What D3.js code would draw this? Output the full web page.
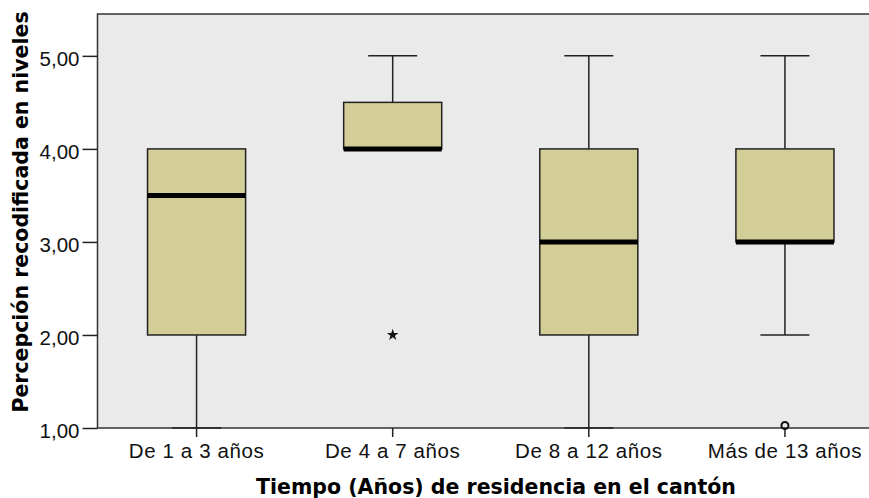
<!DOCTYPE html>
<html><head><meta charset="utf-8">
<script src="https://cdn.jsdelivr.net/npm/d3@7"></script>
<style>body{margin:0;background:#fff}svg{display:block}</style>
</head><body>
<svg id="c" width="869" height="498"></svg>
<script>
const categories = ["De 1 a 3 años","De 4 a 7 años","De 8 a 12 años","Más de 13 años"];
const whiskerLow  = [1, 4, 1, 2];
const q1          = [2, 4, 2, 3];
const medians     = [3.5, 4, 3, 3];
const q3          = [4, 4.5, 4, 4];
const whiskerHigh = [4, 5, 5, 5];
const outliers = [
  {cat: "De 4 a 7 años", value: 2, type: "star"},
  {cat: "Más de 13 años", value: 1, type: "circle"}
];
const yTicks = [1, 2, 3, 4, 5];
const xTitle = "Tiempo (Años) de residencia en el cantón";
const yTitle = "Percepción recodificada en niveles";

(function () {
const svg = d3.select("#c");
const pLeft = 97.5, pTop = 14, pBottom = 428, rightRange = 883;

const x = d3.scaleBand().domain(categories).range([98.5, rightRange]).paddingInner(0.5).paddingOuter(0.25);
const y = d3.scaleLinear().domain([1, 5.45]).range([pBottom, pTop]);

svg.append("rect").attr("x", pLeft).attr("y", pTop).attr("width", 900 - pLeft).attr("height", pBottom - pTop)
  .attr("fill", "#eaeaea").attr("stroke", "#333").attr("stroke-width", 1.5);

const fmt = d => d.toFixed(2).replace(".", ",");

const yAxis = svg.append("g").attr("transform", `translate(${pLeft},0)`)
  .call(d3.axisLeft(y).tickValues(yTicks).tickFormat(fmt).tickSize(15).tickPadding(3));
yAxis.select(".domain").remove();
yAxis.selectAll(".tick line").attr("stroke", "#222").attr("stroke-width", 1.5);
yAxis.selectAll(".tick text").attr("font-family", "Liberation Sans, Arial, sans-serif")
  .attr("font-size", 20.5).attr("fill", "#111").attr("dy", "0.45em");

const xAxis = svg.append("g").attr("transform", `translate(0,${pBottom})`)
  .call(d3.axisBottom(x).tickSize(9).tickPadding(6));
xAxis.select(".domain").remove();
xAxis.selectAll(".tick line").attr("stroke", "#222").attr("stroke-width", 1.5);
xAxis.selectAll(".tick text").attr("font-family", "Liberation Sans, Arial, sans-serif")
  .attr("font-size", 20.5).attr("letter-spacing", "0.6px").attr("fill", "#111");

const bw = x.bandwidth();
const g = svg.append("g");
categories.forEach((c, i) => {
  const cx = x(c) + bw / 2;
  g.append("line").attr("x1", cx).attr("x2", cx).attr("y1", y(q3[i])).attr("y2", y(whiskerHigh[i]))
    .attr("stroke", "#222").attr("stroke-width", 1.5);
  g.append("line").attr("x1", cx).attr("x2", cx).attr("y1", y(q1[i])).attr("y2", y(whiskerLow[i]))
    .attr("stroke", "#222").attr("stroke-width", 1.5);
  [whiskerHigh[i], whiskerLow[i]].forEach((v, k) => {
    const edge = k === 0 ? q3[i] : q1[i];
    if (v !== edge) {
      g.append("line").attr("x1", cx - bw / 4).attr("x2", cx + bw / 4).attr("y1", y(v)).attr("y2", y(v))
        .attr("stroke", "#222").attr("stroke-width", 1.5);
    }
  });
  g.append("rect").attr("x", x(c)).attr("y", y(q3[i])).attr("width", bw).attr("height", y(q1[i]) - y(q3[i]))
    .attr("fill", "#d3ce97").attr("stroke", "#222").attr("stroke-width", 1.5);
  g.append("line").attr("x1", x(c)).attr("x2", x(c) + bw).attr("y1", y(medians[i])).attr("y2", y(medians[i]))
    .attr("stroke", "#000").attr("stroke-width", 5);
});

outliers.forEach(o => {
  const cx = x(o.cat) + bw / 2;
  if (o.type === "star") {
    g.append("path").attr("d", d3.symbol(d3.symbolStar, 42)())
      .attr("transform", `translate(${cx},${y(o.value)})`).attr("fill", "#111");
  } else {
    g.append("circle").attr("cx", cx).attr("cy", y(o.value) - 2.5).attr("r", 3.5)
      .attr("fill", "none").attr("stroke", "#111").attr("stroke-width", 2);
  }
});

svg.append("text").attr("x", 496).attr("y", 494).attr("text-anchor", "middle")
  .attr("font-family", "DejaVu Sans, Verdana, sans-serif").attr("font-weight", "bold").attr("font-size", 20.5)
  .attr("fill", "#000").text(xTitle);
svg.append("text").attr("transform", "translate(28,212) rotate(-90)").attr("text-anchor", "middle")
  .attr("font-family", "DejaVu Sans, Verdana, sans-serif").attr("font-weight", "bold").attr("font-size", 20.5)
  .attr("fill", "#000").text(yTitle);
})();
</script>
</body></html>
